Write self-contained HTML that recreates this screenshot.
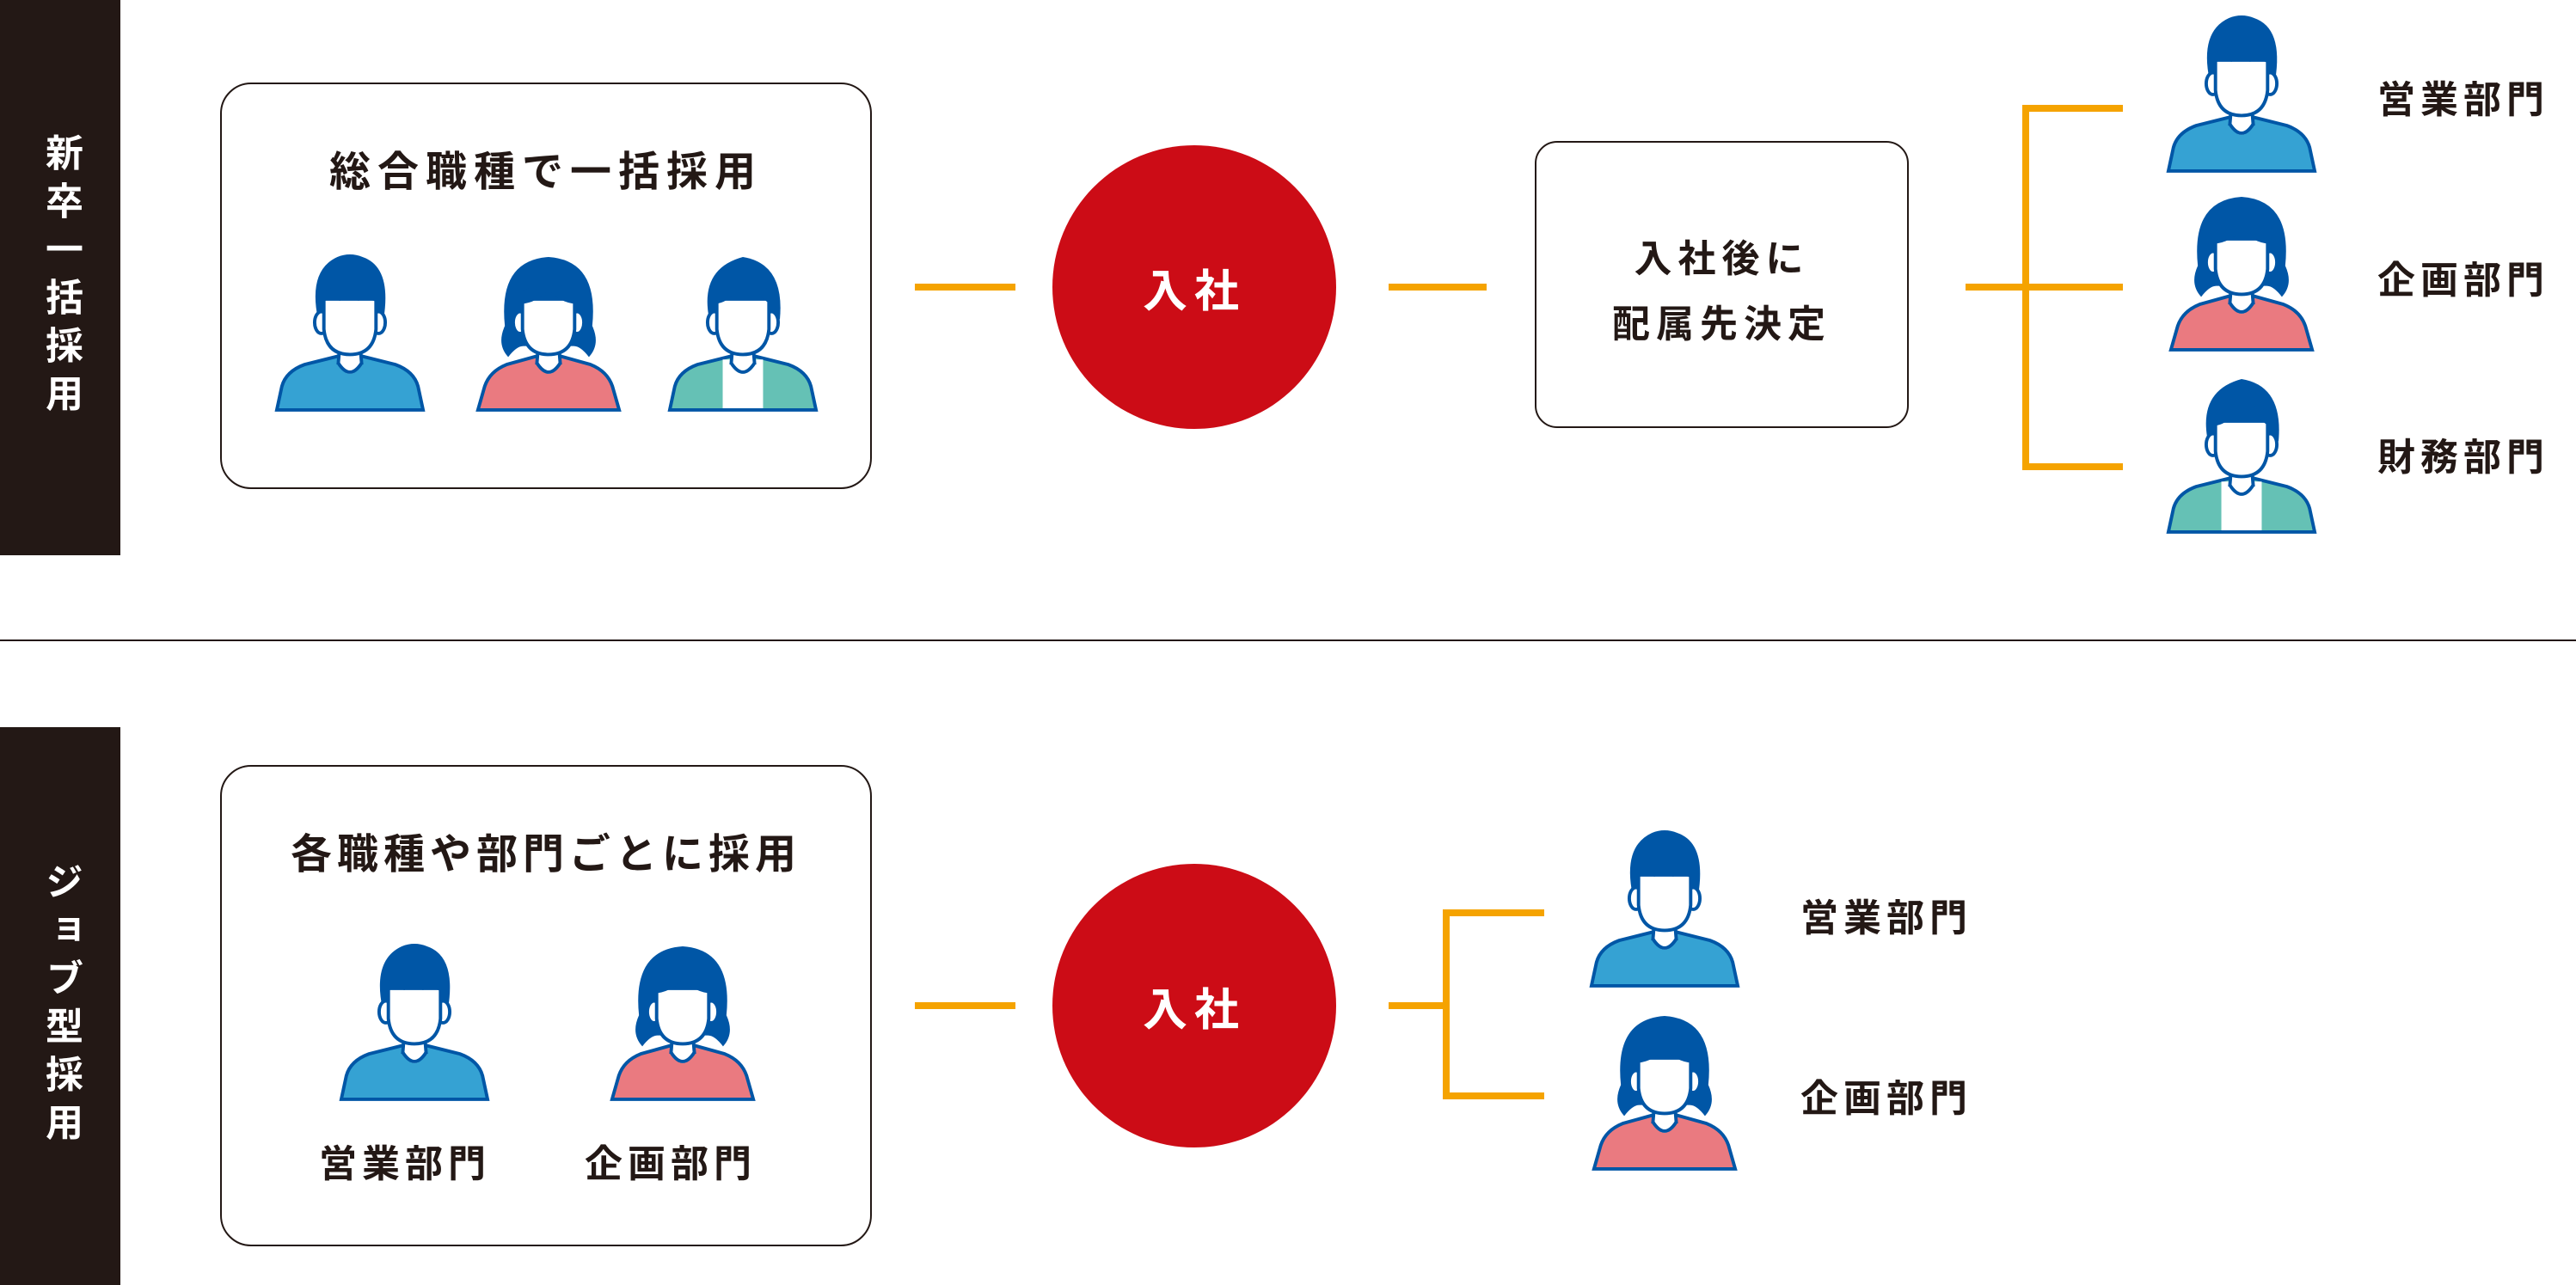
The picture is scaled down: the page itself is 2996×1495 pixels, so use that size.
<!DOCTYPE html>
<html><head><meta charset="utf-8"><style>
html,body{margin:0;padding:0;background:#fff;}
body{width:2996px;height:1495px;position:relative;overflow:hidden;font-family:"Liberation Sans","Noto Sans CJK JP",sans-serif;color:#231815;font-weight:bold;}
.ban{position:absolute;left:0;width:140px;background:#231815;color:#fff;display:flex;align-items:center;justify-content:center;}
.vt{writing-mode:vertical-rl;font-size:44px;letter-spacing:12px;font-weight:bold;}
.box{position:absolute;border:2.5px solid #231815;border-radius:36px;box-sizing:border-box;background:#fff;}
.t{position:absolute;white-space:nowrap;font-weight:bold;}
.circ{position:absolute;width:330px;height:330px;border-radius:50%;background:#cc0c16;color:#fff;font-size:52px;display:flex;align-items:center;justify-content:center;letter-spacing:8px;font-weight:bold;}
.h{position:absolute;height:8px;background:#f5a300;}
.v{position:absolute;width:8px;background:#f5a300;}
svg.p{position:absolute;overflow:visible;}
</style></head><body>
<svg width="0" height="0" style="position:absolute">
<defs>
<g id="neck">
<path d="M78,110 L76,134 Q90,156 104,134 L102,110 Z" fill="#fff"/>
<path d="M78,110 L76,134 M102,110 L104,134 M76,132 Q90,154 104,132" fill="none" stroke="#0056a6" stroke-width="4"/>
</g>
<g id="face">
<ellipse cx="56" cy="84" rx="8" ry="13" fill="#fff" stroke="#0056a6" stroke-width="4"/>
<ellipse cx="124" cy="84" rx="8" ry="13" fill="#fff" stroke="#0056a6" stroke-width="4"/>
<path d="M59,56 L59,92 Q62,122 90,122 Q118,122 121,92 L121,56 Z" fill="#fff" stroke="#0056a6" stroke-width="4"/>
</g>
<symbol id="man" viewBox="0 0 180 190">
<path d="M3,188 L9,160 Q14,142 36,134 L76,124 L104,124 L144,134 Q166,142 171,160 L177,188 Z" fill="#35a2d3" stroke="#0056a6" stroke-width="4"/>
<use href="#neck"/>
<path d="M52,80 Q40,22 75,6 Q90,0 105,6 Q140,18 130,80 Z" fill="#0056a6"/>
<use href="#face"/>
<path d="M57,60 L57,48 Q90,30 123,48 L123,60 Q110,54 100,58 Q90,52 78,58 Q66,54 57,60 Z" fill="#0056a6"/>
</symbol>
<symbol id="woman" viewBox="0 0 180 190">
<path d="M6,188 L14,160 Q20,142 40,134 L76,124 L104,124 L140,134 Q160,142 166,160 L174,188 Z" fill="#ea7a80" stroke="#0056a6" stroke-width="4"/>
<path d="M42,125 Q28,110 38,88 Q30,10 90,6 Q150,10 142,88 Q152,110 138,125 Q128,112 120,112 L60,112 Q52,112 42,125 Z" fill="#0056a6"/>
<use href="#neck"/>
<use href="#face"/>
<path d="M57,62 L57,48 Q90,28 123,48 L123,62 Q102,60 90,44 Q78,60 57,62 Z" fill="#0056a6"/>
</symbol>
<symbol id="man2" viewBox="0 0 180 190">
<path d="M3,188 L9,160 Q14,142 36,134 L76,124 L104,124 L144,134 Q166,142 171,160 L177,188 Z" fill="#65c1b5" stroke="#0056a6" stroke-width="4"/>
<rect x="66" y="128" width="48" height="58" fill="#fff"/>
<use href="#neck"/>
<path d="M50,80 Q38,20 90,6 Q140,14 134,80 Z" fill="#0056a6"/>
<use href="#face"/>
<path d="M57,62 L57,46 Q90,26 123,46 L123,62 Q112,56 106,44 Q92,36 80,48 Q72,60 57,62 Z" fill="#0056a6"/>
</symbol>
</defs></svg>

<div class="ban" style="top:0;height:646px;"><div class="vt">新卒一括採用</div></div>
<div class="ban" style="top:846px;height:649px;"><div class="vt">ジョブ型採用</div></div>
<div style="position:absolute;left:0;top:744px;width:2996px;height:2px;background:#231815;"></div>

<div class="box" style="left:256px;top:96px;width:758px;height:473px;"></div>
<div class="t" style="left:256px;width:758px;text-align:center;top:160px;font-size:48px;letter-spacing:8px;">総合職種で一括採用</div>
<svg class="p" style="left:319px;top:292px" width="176" height="188"><use href="#man"/></svg>
<svg class="p" style="left:550px;top:292px" width="176" height="188"><use href="#woman"/></svg>
<svg class="p" style="left:776px;top:292px" width="176" height="188"><use href="#man2"/></svg>

<div class="h" style="left:1064px;top:330px;width:117px;"></div>
<div class="circ" style="left:1224px;top:169px;">入社</div>
<div class="h" style="left:1615px;top:330px;width:114px;"></div>

<div class="box" style="left:1785px;top:164px;width:435px;height:334px;border-radius:26px;"></div>
<div class="t" style="left:1785px;width:435px;text-align:center;top:264px;font-size:44px;letter-spacing:7px;line-height:76px;">入社後に<br>配属先決定</div>

<div class="v" style="left:2352px;top:122px;height:425px;"></div>
<div class="h" style="left:2352px;top:122px;width:117px;"></div>
<div class="h" style="left:2286px;top:330px;width:183px;"></div>
<div class="h" style="left:2352px;top:539px;width:117px;"></div>

<svg class="p" style="left:2519px;top:14px" width="176" height="188"><use href="#man"/></svg>
<svg class="p" style="left:2519px;top:222px" width="176" height="188"><use href="#woman"/></svg>
<svg class="p" style="left:2519px;top:434px" width="176" height="188"><use href="#man2"/></svg>
<div class="t" style="left:2765px;top:80px;font-size:44px;letter-spacing:6px;">営業部門</div>
<div class="t" style="left:2765px;top:290px;font-size:44px;letter-spacing:6px;">企画部門</div>
<div class="t" style="left:2765px;top:496px;font-size:44px;letter-spacing:6px;">財務部門</div>

<div class="box" style="left:256px;top:890px;width:758px;height:560px;"></div>
<div class="t" style="left:256px;width:758px;text-align:center;top:954px;font-size:48px;letter-spacing:6px;">各職種や部門ごとに採用</div>
<svg class="p" style="left:394px;top:1094px" width="176" height="188"><use href="#man"/></svg>
<svg class="p" style="left:706px;top:1094px" width="176" height="188"><use href="#woman"/></svg>
<div class="t" style="left:371px;top:1318px;font-size:44px;letter-spacing:6px;">営業部門</div>
<div class="t" style="left:680px;top:1318px;font-size:44px;letter-spacing:6px;">企画部門</div>

<div class="h" style="left:1064px;top:1166px;width:117px;"></div>
<div class="circ" style="left:1224px;top:1005px;">入社</div>
<div class="h" style="left:1615px;top:1166px;width:71px;"></div>
<div class="v" style="left:1678px;top:1058px;height:221px;"></div>
<div class="h" style="left:1678px;top:1058px;width:118px;"></div>
<div class="h" style="left:1678px;top:1271px;width:118px;"></div>

<svg class="p" style="left:1848px;top:962px" width="176" height="188"><use href="#man"/></svg>
<svg class="p" style="left:1848px;top:1175px" width="176" height="188"><use href="#woman"/></svg>
<div class="t" style="left:2094px;top:1032px;font-size:44px;letter-spacing:6px;">営業部門</div>
<div class="t" style="left:2094px;top:1242px;font-size:44px;letter-spacing:6px;">企画部門</div>
</body></html>
